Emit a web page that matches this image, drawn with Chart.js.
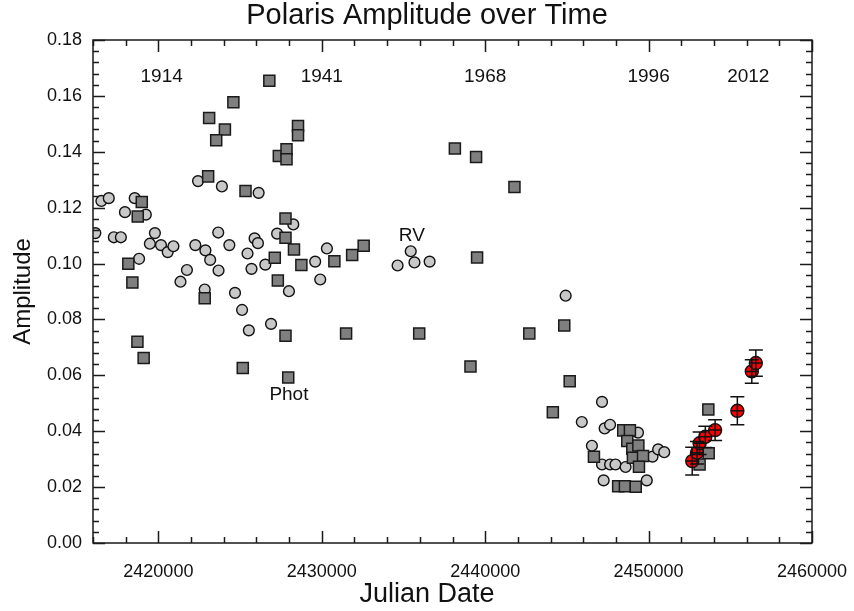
<!DOCTYPE html>
<html><head><meta charset="utf-8">
<script src="https://cdn.jsdelivr.net/npm/chart.js@4.4.1/dist/chart.umd.min.js"></script>
<style>html,body{margin:0;padding:0;background:#fff}#wrap{width:854px;height:611px}</style>
</head><body><div id="wrap"><canvas id="c" width="854" height="611"></canvas></div>
<script>
// ---- data ----
const rvJD = [2416142,2416513,2416966,2417275,2417706,2417955,2418553,2419232,2418820,2419480,
  2419788,2420160,2420572,2420922,2421354,2421748,2422427,2423888,2422261,2422879,
  2423170,2423664,2423682,2422836,2424344,2424690,2425123,2425537,2425456,2425700,
  2426136,2425889,2426093,2426546,2427267,2428256,2426896,2427990,2429597,2429906,
  2430314,2434640,2435444,2435672,2436600,2444925,2447150,2445913,2447311,2447643,
  2446531,2447150,2447643,2447973,2448591,2449351,2450240,2450586,2450957,2447249,2449889];
const rvAmp = [0.1109,0.1224,0.1234,0.1094,0.1094,0.1184,0.1234,0.1175,0.1017,0.1071,
  0.1109,0.1066,0.1041,0.1062,0.0935,0.0977,0.1295,0.1276,0.1066,0.1047,
  0.1013,0.1111,0.0975,0.0907,0.1066,0.0895,0.0834,0.0761,0.1036,0.0981,
  0.1253,0.1090,0.1073,0.0996,0.1107,0.1140,0.0784,0.0901,0.1007,0.0943,
  0.1054,0.0993,0.1044,0.1004,0.1007,0.0885,0.0505,0.0433,0.0410,0.0423,
  0.0348,0.0281,0.0281,0.0281,0.0272,0.0395,0.0309,0.0335,0.0325,0.0224,0.0224];

const photJD = [2418161,2418410,2418719,2419100,2418738,2418985,2423046,2422836,2426791,2424591,
  2423107,2424072,2423540,2428546,2428546,2427372,2427842,2427842,2425333,2427780,
  2427780,2428299,2427124,2428751,2430771,2431859,2432564,2427311,2427780,2431488,
  2435963,2425166,2427947,2438145,2439443,2441791,2439504,2439100,2442700,2444140,
  2444839,2445172,2446655,2448448,2448857,2448696,2449003,2449374,2449040,2449658,
  2449411,2448138,2448550,2449212,2453656,2453677,2453121];
const photAmp = [0.0999,0.0932,0.0720,0.0662,0.1168,0.1220,0.1312,0.0876,0.1654,0.1577,
  0.1521,0.1480,0.1441,0.1492,0.1459,0.1385,0.1409,0.1373,0.1260,0.1161,
  0.1092,0.1050,0.1021,0.0995,0.1008,0.1031,0.1064,0.0939,0.0742,0.0750,
  0.0750,0.0626,0.0592,0.1412,0.1381,0.1274,0.1022,0.0632,0.0750,0.0468,
  0.0778,0.0579,0.0309,0.0403,0.0403,0.0365,0.0337,0.0349,0.0305,0.0311,
  0.0273,0.0203,0.0203,0.0201,0.0478,0.0321,0.0281];

const newJD  = [2452669,2452960,2453121,2453472,2454071,2455432,2456316,2456563];
const newAmp = [0.0293,0.0323,0.0357,0.0380,0.0404,0.0473,0.0614,0.0644];
const newErr = [0.0050,0.0040,0.0040,0.0038,0.0037,0.0050,0.0042,0.0047];

const xTickValues = [2420000,2430000,2440000,2450000,2460000];
const yTickValues = [0,0.02,0.04,0.06,0.08,0.10,0.12,0.14,0.16,0.18];

const yearLabels = ['1914','1941','1968','1996','2012'];
const yearJD = [2420200,2430000,2440000,2450000,2456100];
const yearAmp = [0.167,0.167,0.167,0.167,0.167];

const groupLabels = ['RV','Phot'];
const groupJD = [2435512,2427990];
const groupAmp = [0.1100,0.0532];

const chartTitle = 'Polaris Amplitude over Time';
const xTitle = 'Julian Date';

// ---- helpers ----
const zip = (xs, ys) => xs.map((x, i) => ({x: x, y: ys[i]}));
const FONT = "'Liberation Sans', Arial, Helvetica, sans-serif";

const framePlugin = {
  id: 'frame',
  afterDraw(chart) {
    const ctx = chart.ctx, a = chart.chartArea;
    const xs = chart.scales.x, ys = chart.scales.y;
    ctx.save();
    ctx.strokeStyle = '#1a1a1a';
    ctx.lineWidth = 1.5;
    ctx.strokeRect(a.left, a.top, a.right - a.left, a.bottom - a.top);
    ctx.beginPath();
    const MAJ = 12, MIN = 6;
    for (let v = xs.min; v <= xs.max + 1; v += 2000) {
      const px = Math.round(xs.getPixelForValue(v)) + 0.5;
      const len = (Math.round(v) % 10000 === 0) ? MAJ : MIN;
      ctx.moveTo(px, a.bottom); ctx.lineTo(px, a.bottom - len);
      ctx.moveTo(px, a.top); ctx.lineTo(px, a.top + len);
    }
    for (let i = 0; i <= 45; i++) {
      const v = i * 0.004;
      const py = Math.round(ys.getPixelForValue(v)) + 0.5;
      const len = (i % 5 === 0) ? MAJ : MIN;
      ctx.moveTo(a.left, py); ctx.lineTo(a.left + len, py);
      ctx.moveTo(a.right, py); ctx.lineTo(a.right - len, py);
    }
    ctx.stroke();
    // titles centred on the page, as in the reference
    ctx.fillStyle = '#111';
    ctx.textAlign = 'center';
    ctx.textBaseline = 'middle';
    ctx.font = '29px ' + FONT;
    ctx.fillText(chartTitle, chart.width / 2, 16);
    ctx.font = '27px ' + FONT;
    ctx.fillText(xTitle, chart.width / 2, 595);
    ctx.restore();
  }
};

const errPlugin = {
  id: 'errbars',
  afterDatasetsDraw(chart) {
    const ctx = chart.ctx;
    const xs = chart.scales.x, ys = chart.scales.y;
    ctx.save();
    ctx.strokeStyle = '#111';
    ctx.lineWidth = 1.5;
    ctx.beginPath();
    for (let i = 0; i < newJD.length; i++) {
      const px = xs.getPixelForValue(newJD[i]);
      const py = ys.getPixelForValue(newAmp[i]);
      const pt = ys.getPixelForValue(newAmp[i] + newErr[i]);
      const pb = ys.getPixelForValue(newAmp[i] - newErr[i]);
      ctx.moveTo(px, pt); ctx.lineTo(px, pb);
      ctx.moveTo(px - 7, pt); ctx.lineTo(px + 7, pt);
      ctx.moveTo(px - 7, pb); ctx.lineTo(px + 7, pb);
      ctx.moveTo(px - 6, py); ctx.lineTo(px + 6, py);
    }
    ctx.stroke();
    ctx.fillStyle = '#111';
    ctx.textAlign = 'center';
    ctx.textBaseline = 'middle';
    ctx.font = '19px ' + FONT;
    for (let i = 0; i < yearLabels.length; i++) {
      ctx.fillText(yearLabels[i], xs.getPixelForValue(yearJD[i]), ys.getPixelForValue(yearAmp[i]));
    }
    for (let i = 0; i < groupLabels.length; i++) {
      ctx.fillText(groupLabels[i], xs.getPixelForValue(groupJD[i]), ys.getPixelForValue(groupAmp[i]));
    }
    ctx.restore();
  }
};

new Chart(document.getElementById('c'), {
  type: 'scatter',
  data: {
    datasets: [
      { label: 'RV', data: zip(rvJD, rvAmp), order: 3,
        pointStyle: 'circle', pointRadius: 5.4, pointBackgroundColor: '#c8c8c8',
        pointBorderColor: '#111', pointBorderWidth: 1.4 },
      { label: 'Phot', data: zip(photJD, photAmp), order: 2,
        pointStyle: 'rect', pointRadius: 7.8, pointBackgroundColor: '#7f7f7f',
        pointBorderColor: '#1a1a1a', pointBorderWidth: 1.5 },
      { label: 'New', data: zip(newJD, newAmp), order: 1,
        pointStyle: 'circle', pointRadius: 6.5, pointBackgroundColor: '#ff0000',
        pointBorderColor: '#111', pointBorderWidth: 1.4 }
    ]
  },
  options: {
    responsive: false, animation: false, devicePixelRatio: 1,
    layout: { padding: { left: 0, right: 0, top: 40, bottom: 0 } },
    plugins: {
      legend: { display: false }, tooltip: { enabled: false },
      title: { display: false }
    },
    scales: {
      x: { type: 'linear', min: 2416000, max: 2460000,
        grid: { display: false, drawTicks: false }, border: { display: false },
        afterBuildTicks: s => { s.ticks = xTickValues.map(v => ({ value: v })); },
        afterFit: s => { s.height = 68; s.paddingRight = 42; },
        ticks: { color: '#111', padding: 18, maxRotation: 0, autoSkip: false,
          font: { family: FONT, size: 18 }, callback: v => String(v) },
        title: { display: false } },
      y: { type: 'linear', min: 0, max: 0.18,
        grid: { display: false, drawTicks: false }, border: { display: false },
        afterBuildTicks: s => { s.ticks = yTickValues.map(v => ({ value: v })); },
        afterFit: s => { s.width = 93; },
        ticks: { color: '#111', padding: 11, autoSkip: false,
          font: { family: FONT, size: 18 }, callback: v => Number(v).toFixed(2) },
        title: { display: true, text: 'Amplitude', color: '#111',
          font: { family: FONT, size: 24 }, padding: { top: 9, bottom: 0 } } }
    }
  },
  plugins: [framePlugin, errPlugin]
});
</script></body></html>
